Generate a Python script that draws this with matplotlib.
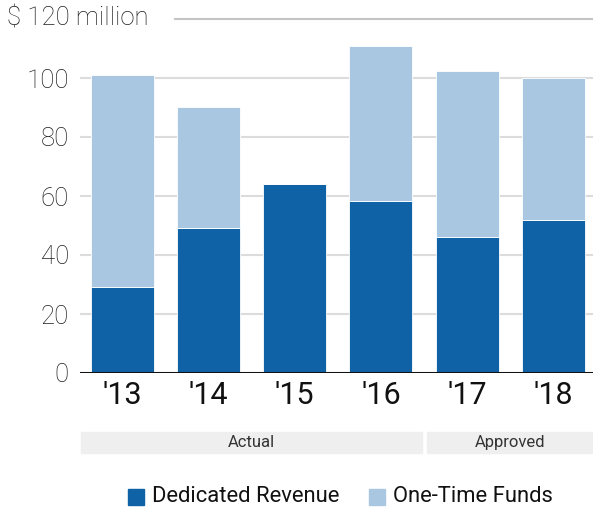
import matplotlib
matplotlib.use("Agg")
import matplotlib.pyplot as plt
from matplotlib.patches import Rectangle

years = ["'13", "'14", "'15", "'16", "'17", "'18"]
dedicated = [29, 49, 64, 58.3, 46, 52]
one_time = [72, 41, 0, 52.5, 56.3, 48]
yticks = [0, 20, 40, 60, 80, 100]
groups = ["Actual", "Approved"]

dark = "#0f62a6"
light = "#a9c7e0"
plt.rcParams['font.family'] = ['Roboto', 'DejaVu Sans']

W, H = 593, 513
fig = plt.figure(figsize=(W / 100, H / 100), dpi=100)
ax = fig.add_axes([80 / W, 1 - 373 / H, (593 - 80) / W, (373 - 19) / H])

x = list(range(len(years)))
ax.bar(x, dedicated, width=0.73, color=dark, edgecolor="white", linewidth=0.6, zorder=3)
ax.bar(x, one_time, width=0.73, bottom=dedicated, color=light, edgecolor="white", linewidth=0.6, zorder=3)

ax.set_xlim(-0.49, 5.46)
ax.set_ylim(0, 120)
for v in yticks[1:]:
    ax.axhline(v, color="#dcdcdc", linewidth=1.5, zorder=1)
ax.axhline(120, xmin=(175 - 80) / (593 - 80), xmax=1, color="#c4c4c4", linewidth=1.5, zorder=1, clip_on=False)
ax.axhline(0, color="#111111", linewidth=2.2, zorder=4)

ax.set_yticks(yticks)
ax.set_yticklabels([str(v) for v in yticks], fontsize=18.5, color="#1e1e1e", fontweight="light")
ax.set_xticks(x)
ax.set_xticklabels(years, fontsize=22, color="#111111")
ax.tick_params(axis="y", length=0, pad=8)
ax.tick_params(axis="x", length=0, pad=6)
for s in ax.spines.values():
    s.set_visible(False)

fig.text(7 / W, 1 - 19 / H, "$ 120 million", fontsize=18.5, color="#1e1e1e", va="center", ha="left",
         fontweight="light")

# group bands
bands = [(81, 422, groups[0]), (427, 593, groups[1])]
for x0, x1, lab in bands:
    fig.patches.append(Rectangle((x0 / W, 1 - 453 / H), (x1 - x0) / W, 21 / H,
                                 transform=fig.transFigure, color="#efefef", zorder=0))
    fig.text((x0 + x1) / 2 / W, 1 - 442.5 / H, lab, fontsize=12, color="#333333", ha="center", va="center")

# legend
items = [(128, dark, "Dedicated Revenue"), (369, light, "One-Time Funds")]
for sx, col, lab in items:
    fig.patches.append(Rectangle((sx / W, 1 - 505 / H), 16 / W, 16 / H, transform=fig.transFigure, color=col))
    fig.text((sx + 24) / W, 1 - 497 / H, lab, fontsize=15.8, color="#111111", ha="left", va="center")

fig.savefig("out.png", dpi=100)
